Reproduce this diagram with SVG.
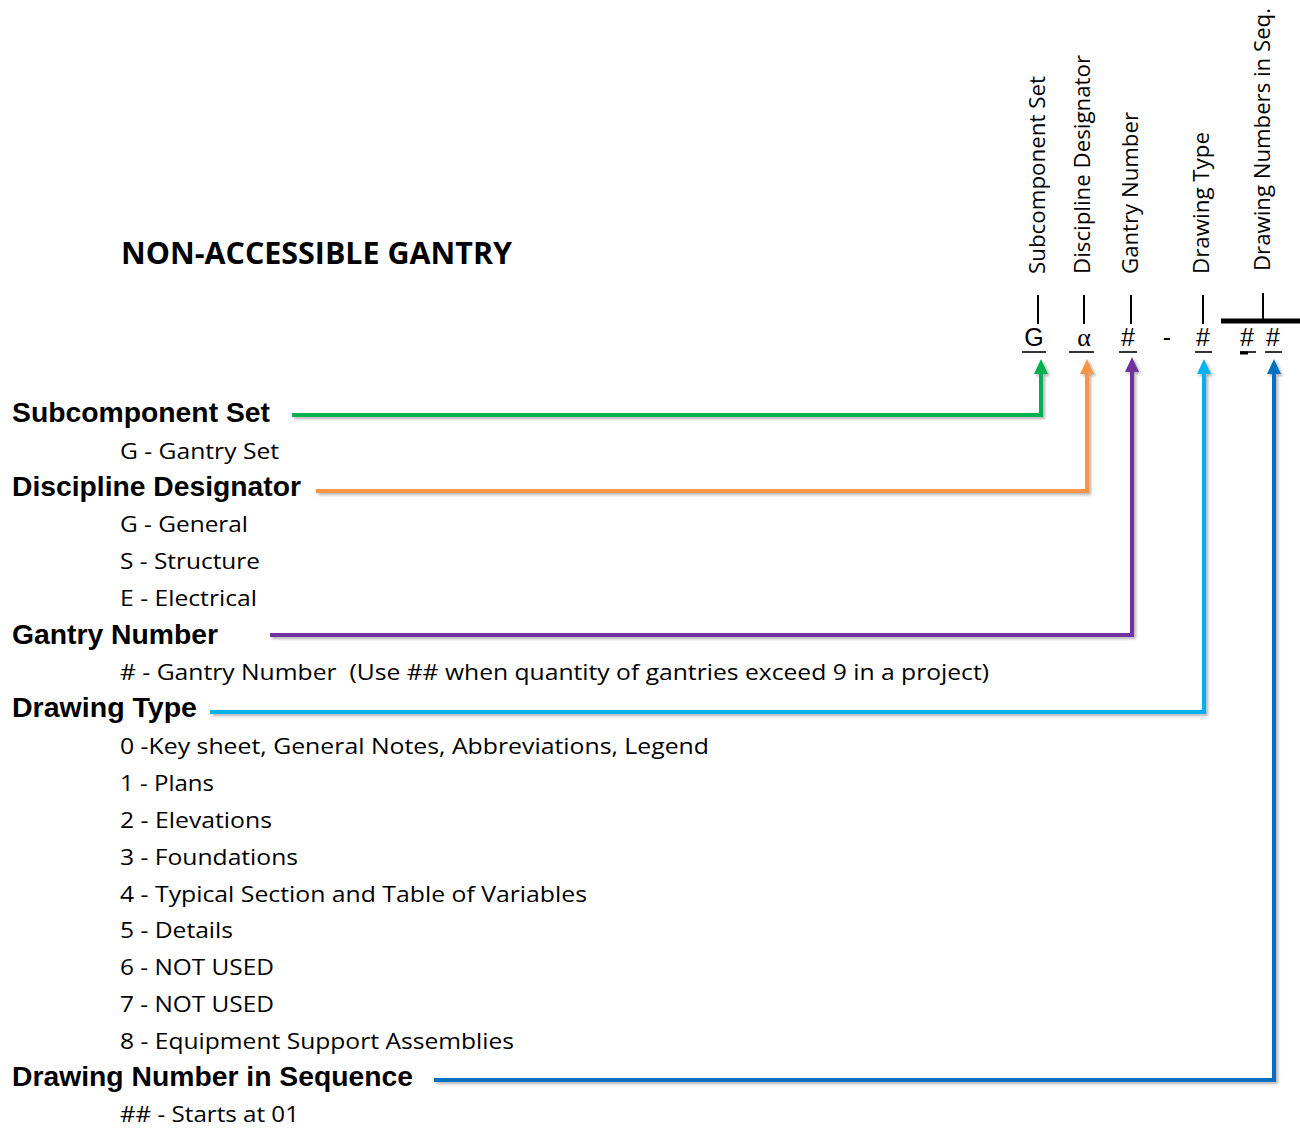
<svg xmlns="http://www.w3.org/2000/svg" width="1300" height="1128" viewBox="0 0 1300 1128">
<style>
.h{font-family:"Liberation Sans",Arial,sans-serif;font-weight:bold;font-size:28px;fill:#000}
.t{font-family:"Open Sans","Noto Sans",sans-serif;font-size:22px;fill:#000}
.v{font-family:"Open Sans","Noto Sans",sans-serif;font-size:21px;fill:#000}
.c{font-family:"Liberation Sans",Arial,sans-serif;font-size:25px;fill:#000}
.a{font-family:"Liberation Serif","Times New Roman",serif;font-size:26px;fill:#000}
.title{font-family:"Open Sans","Noto Sans",sans-serif;font-weight:bold;font-size:30px;fill:#000}
.k{stroke:#000;stroke-width:2;fill:none}
.u{stroke:#000;stroke-width:1.6;fill:none}
.ln{fill:none;stroke-width:4;stroke-linejoin:miter}
</style>
<defs>
<filter id="sh" x="-5%" y="-5%" width="110%" height="110%">
<feDropShadow dx="2" dy="2" stdDeviation="1.5" flood-color="#000" flood-opacity="0.3"/>
</filter>
</defs>
<text class="title" x="121" y="264" textLength="391" lengthAdjust="spacingAndGlyphs">NON-ACCESSIBLE GANTRY</text>

<g id="code">
<text class="v" transform="translate(1045,274) rotate(-90)" textLength="198" lengthAdjust="spacingAndGlyphs">Subcomponent Set</text>
<text class="v" transform="translate(1090,274) rotate(-90)" textLength="219" lengthAdjust="spacingAndGlyphs">Discipline Designator</text>
<text class="v" transform="translate(1138,274) rotate(-90)" textLength="162" lengthAdjust="spacingAndGlyphs">Gantry Number</text>
<text class="v" transform="translate(1209,274) rotate(-90)" textLength="142" lengthAdjust="spacingAndGlyphs">Drawing Type</text>
<text class="v" transform="translate(1270,271) rotate(-90)" textLength="263" lengthAdjust="spacingAndGlyphs">Drawing Numbers in Seq.</text>
<line class="k" x1="1038" y1="295" x2="1038" y2="324"/>
<line class="k" x1="1084" y1="295" x2="1084" y2="324"/>
<line class="k" x1="1131" y1="295" x2="1131" y2="324"/>
<line class="k" x1="1203" y1="295" x2="1203" y2="324"/>
<line class="k" x1="1263" y1="293" x2="1263" y2="320"/>
<line x1="1221" y1="321" x2="1300" y2="321" stroke="#000" stroke-width="5"/>
<text class="c" x="1034" y="346" text-anchor="middle">G</text>
<text class="a" x="1084" y="346" text-anchor="middle">α</text>
<text class="c" x="1128" y="346" text-anchor="middle">#</text>
<text class="c" x="1167" y="346" text-anchor="middle">-</text>
<text class="c" x="1203" y="346" text-anchor="middle">#</text>
<text class="c" x="1247" y="346" text-anchor="middle">#</text>
<text class="c" x="1273" y="346" text-anchor="middle">#</text>
<line class="u" x1="1022" y1="352" x2="1046" y2="352"/>
<line class="u" x1="1069" y1="352" x2="1094" y2="352"/>
<line class="u" x1="1119" y1="352" x2="1137" y2="352"/>
<line class="u" x1="1195" y1="352" x2="1212" y2="352"/>
<line class="u" x1="1240" y1="352" x2="1256" y2="352"/>
<line x1="1240" y1="353" x2="1248" y2="353" stroke="#000" stroke-width="3"/>
<line class="u" x1="1265" y1="352" x2="1282" y2="352"/>
</g>

<g id="labels">
<text class="h" x="12" y="422" textLength="258" lengthAdjust="spacingAndGlyphs">Subcomponent Set</text>
<text class="t" x="120" y="459" textLength="159" lengthAdjust="spacingAndGlyphs">G - Gantry Set</text>
<text class="h" x="12" y="496" textLength="289" lengthAdjust="spacingAndGlyphs">Discipline Designator</text>
<text class="t" x="120" y="532" textLength="128" lengthAdjust="spacingAndGlyphs">G - General</text>
<text class="t" x="120" y="569" textLength="140" lengthAdjust="spacingAndGlyphs">S - Structure</text>
<text class="t" x="120" y="606" textLength="137" lengthAdjust="spacingAndGlyphs">E - Electrical</text>
<text class="h" x="12" y="644" textLength="206" lengthAdjust="spacingAndGlyphs">Gantry Number</text>
<text class="t" x="120" y="680" textLength="869" lengthAdjust="spacingAndGlyphs" xml:space="preserve"># - Gantry Number  (Use ## when quantity of gantries exceed 9 in a project)</text>
<text class="h" x="12" y="717" textLength="185" lengthAdjust="spacingAndGlyphs">Drawing Type</text>
<text class="t" x="120" y="754" textLength="589" lengthAdjust="spacingAndGlyphs">0 -Key sheet, General Notes, Abbreviations, Legend</text>
<text class="t" x="120" y="791" textLength="94" lengthAdjust="spacingAndGlyphs">1 - Plans</text>
<text class="t" x="120" y="828" textLength="152" lengthAdjust="spacingAndGlyphs">2 - Elevations</text>
<text class="t" x="120" y="865" textLength="178" lengthAdjust="spacingAndGlyphs">3 - Foundations</text>
<text class="t" x="120" y="902" textLength="467" lengthAdjust="spacingAndGlyphs">4 - Typical Section and Table of Variables</text>
<text class="t" x="120" y="938" textLength="113" lengthAdjust="spacingAndGlyphs">5 - Details</text>
<text class="t" x="120" y="975" textLength="154" lengthAdjust="spacingAndGlyphs">6 - NOT USED</text>
<text class="t" x="120" y="1012" textLength="154" lengthAdjust="spacingAndGlyphs">7 - NOT USED</text>
<text class="t" x="120" y="1049" textLength="394" lengthAdjust="spacingAndGlyphs">8 - Equipment Support Assemblies</text>
<text class="h" x="12" y="1086" textLength="401" lengthAdjust="spacingAndGlyphs">Drawing Number in Sequence</text>
<text class="t" x="120" y="1122" textLength="179" lengthAdjust="spacingAndGlyphs">## - Starts at 01</text>
</g>

<g id="connectors" filter="url(#sh)">
<path class="ln" stroke="#00B050" d="M292,415 H1041 V372"/>
<polygon fill="#00B050" points="1041,359 1048,374 1034,374"/>
<path class="ln" stroke="#F79646" d="M316,491 H1087 V372"/>
<polygon fill="#F79646" points="1087,359 1094,374 1080,374"/>
<path class="ln" stroke="#7030A0" d="M270,635 H1132 V370"/>
<polygon fill="#7030A0" points="1132,357 1139,372 1125,372"/>
<path class="ln" stroke="#00B0F0" d="M210,712 H1204 V372"/>
<polygon fill="#00B0F0" points="1204,359 1211,374 1197,374"/>
<path class="ln" stroke="#0070C0" d="M434,1080 H1274 V372"/>
<polygon fill="#0070C0" points="1274,359 1281,374 1267,374"/>
</g>
</svg>
